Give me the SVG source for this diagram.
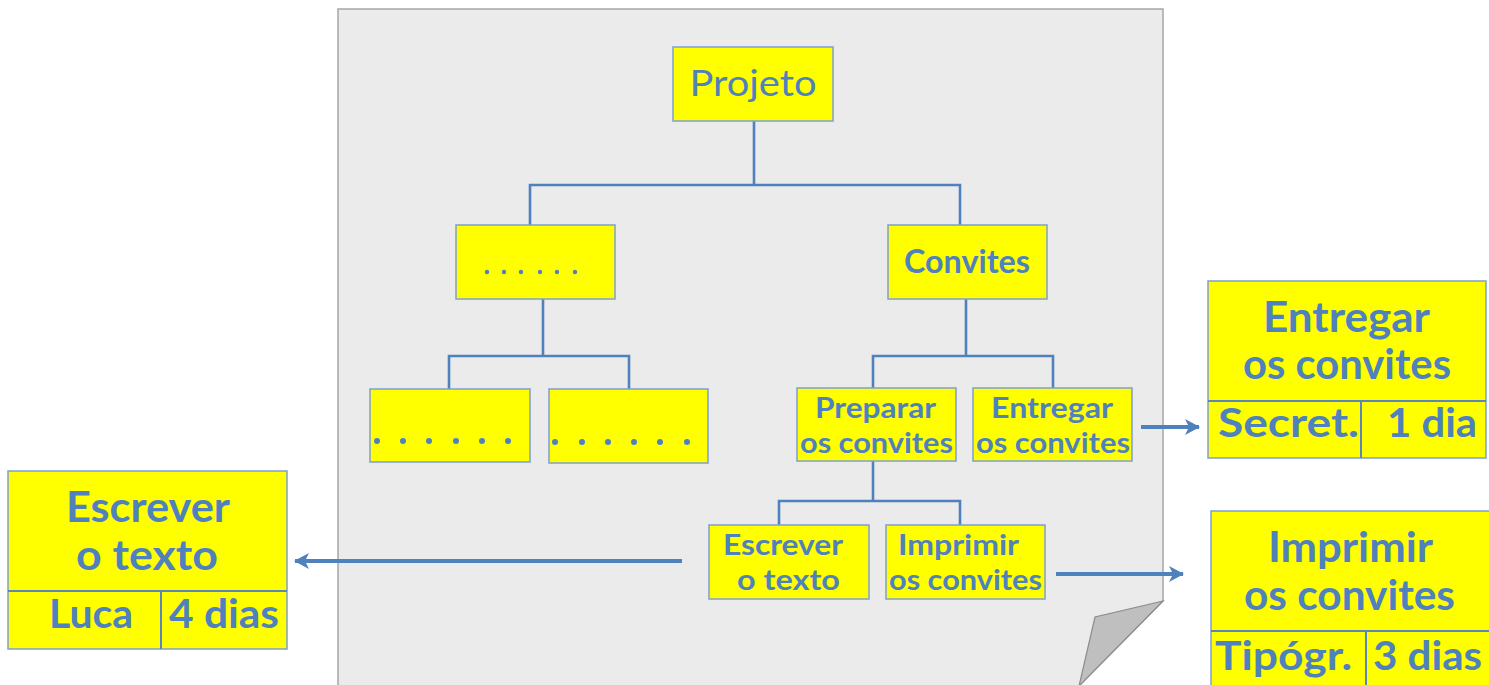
<svg xmlns="http://www.w3.org/2000/svg" width="1489" height="685" viewBox="0 0 1489 685">
  <style>
    .page { fill: #ebebeb; stroke: #a6a6a6; stroke-width: 1.5; }
    .fold { fill: #bfbfbf; stroke: #8c8c8c; stroke-width: 1.2; }
    .box { fill: #ffff00; stroke: #7f9fcf; stroke-width: 1.5; }
    .div { stroke: #5a86c0; stroke-width: 2; fill: none; }
    .link { fill: none; stroke: #4f81bd; stroke-width: 2.6; }
    .arrow { fill: none; stroke: #4f81bd; stroke-width: 4; }
    .t { font-family: Lato, "DejaVu Sans", sans-serif; font-weight: 700; fill: #4f81bd; text-anchor: middle; }
    .s { text-anchor: start; }
    .reg { font-weight: 400; }
    .dot { fill: #4f81bd; }
  </style>
  <defs>
    <marker id="head" markerUnits="userSpaceOnUse" markerWidth="16" markerHeight="18" refX="14" refY="8" orient="auto">
      <path d="M0,0 L15,8 L0,16 L4,8 Z" fill="#4f81bd"/>
    </marker>
  </defs>

  <!-- sheet of paper with curled corner -->
  <g id="sheet">
    <path class="page" d="M338,9 H1163 V601 L1079,686 H338 Z"/>
    <path class="fold" d="M1163,601 L1095,617 L1079,686 Z"/>
  </g>

  <!-- tree connectors and arrows -->
  <g id="connectors">
    <path class="link" d="M754,121 V185 M530,225 V185 H960 V225"/>
    <path class="link" d="M543,299 V356 M449,389 V356 H629 V389"/>
    <path class="link" d="M966,299 V356 M873,388 V356 H1053 V388"/>
    <path class="link" d="M873,461 V501 M779,526 V501 H960 V526"/>
    <line class="arrow" x1="1141" y1="427" x2="1199" y2="427" marker-end="url(#head)"/>
    <line class="arrow" x1="682" y1="561" x2="295" y2="561" marker-end="url(#head)"/>
    <line class="arrow" x1="1056" y1="574" x2="1183" y2="574" marker-end="url(#head)"/>
  </g>

  <g id="projeto">
    <rect class="box" x="673" y="47" width="160" height="74"/>
    <text class="t reg" x="753" y="96" font-size="36" textLength="127" lengthAdjust="spacingAndGlyphs">Projeto</text>
  </g>

  <g id="outros">
    <rect class="box" x="456" y="225" width="159" height="74"/>
    <g class="dot">
      <circle cx="487" cy="272" r="2.2"/><circle cx="504" cy="272" r="2.2"/><circle cx="521" cy="272" r="2.2"/>
      <circle cx="540" cy="272" r="2.2"/><circle cx="557" cy="272" r="2.2"/><circle cx="575" cy="272" r="2.2"/>
    </g>
  </g>

  <g id="convites">
    <rect class="box" x="888" y="225" width="159" height="74"/>
    <text class="t" x="967" y="273" font-size="32" textLength="126" lengthAdjust="spacingAndGlyphs">Convites</text>
  </g>

  <g id="outros-a">
    <rect class="box" x="370" y="389" width="160" height="73"/>
    <g class="dot">
      <circle cx="377" cy="441" r="3"/><circle cx="403" cy="441" r="3"/><circle cx="429" cy="441" r="3"/>
      <circle cx="456" cy="441" r="3"/><circle cx="482" cy="441" r="3"/><circle cx="508" cy="441" r="3"/>
    </g>
  </g>

  <g id="outros-b">
    <rect class="box" x="549" y="389" width="159" height="74"/>
    <g class="dot">
      <circle cx="555" cy="442" r="3"/><circle cx="582" cy="442" r="3"/><circle cx="608" cy="442" r="3"/>
      <circle cx="634" cy="442" r="3"/><circle cx="660" cy="442" r="3"/><circle cx="687" cy="442" r="3"/>
    </g>
  </g>

  <g id="preparar">
    <rect class="box" x="797" y="388" width="159" height="73"/>
    <text class="t" x="875.5" y="418" font-size="28" textLength="121" lengthAdjust="spacingAndGlyphs">Preparar</text>
    <text class="t" x="876.5" y="453" font-size="28" textLength="153" lengthAdjust="spacingAndGlyphs">os convites</text>
  </g>

  <g id="entregar">
    <rect class="box" x="973" y="388" width="159" height="73"/>
    <text class="t" x="1052" y="418" font-size="28" textLength="122" lengthAdjust="spacingAndGlyphs">Entregar</text>
    <text class="t" x="1053" y="453" font-size="28" textLength="154" lengthAdjust="spacingAndGlyphs">os convites</text>
  </g>

  <g id="escrever">
    <rect class="box" x="709" y="525" width="160" height="74"/>
    <text class="t" x="783" y="555" font-size="28" textLength="120" lengthAdjust="spacingAndGlyphs">Escrever</text>
    <text class="t" x="788.5" y="590" font-size="28" textLength="103" lengthAdjust="spacingAndGlyphs">o texto</text>
  </g>

  <g id="imprimir">
    <rect class="box" x="886" y="525" width="159" height="74"/>
    <text class="t" x="958.5" y="555" font-size="28" textLength="121" lengthAdjust="spacingAndGlyphs">Imprimir</text>
    <text class="t" x="965.5" y="590" font-size="28" textLength="153" lengthAdjust="spacingAndGlyphs">os convites</text>
  </g>

  <!-- task cards -->
  <g id="card-entregar">
    <rect class="box" x="1208" y="281" width="278" height="177"/>
    <path class="div" d="M1208,401 H1486 M1361,401 V458"/>
    <text class="t" x="1346.5" y="332" font-size="42" textLength="167" lengthAdjust="spacingAndGlyphs">Entregar</text>
    <text class="t" x="1347" y="379" font-size="42" textLength="208" lengthAdjust="spacingAndGlyphs">os convites</text>
    <text class="t s" x="1218" y="437" font-size="40" textLength="141" lengthAdjust="spacingAndGlyphs">Secret.</text>
    <text class="t s" x="1387" y="437" font-size="40" textLength="90" lengthAdjust="spacingAndGlyphs">1 dia</text>
  </g>

  <g id="card-escrever">
    <rect class="box" x="8" y="471" width="279" height="178"/>
    <path class="div" d="M8,591 H287 M161,591 V649"/>
    <text class="t" x="148" y="522" font-size="42" textLength="164" lengthAdjust="spacingAndGlyphs">Escrever</text>
    <text class="t" x="147" y="570" font-size="42" textLength="142" lengthAdjust="spacingAndGlyphs">o texto</text>
    <text class="t s" x="49" y="628" font-size="40" textLength="84" lengthAdjust="spacingAndGlyphs">Luca</text>
    <text class="t s" x="169" y="628" font-size="40" textLength="110" lengthAdjust="spacingAndGlyphs">4 dias</text>
  </g>

  <g id="card-imprimir">
    <rect class="box" x="1211" y="511" width="280" height="180"/>
    <path class="div" d="M1211,631 H1491 M1366,631 V691"/>
    <text class="t" x="1350.5" y="562" font-size="42" textLength="165" lengthAdjust="spacingAndGlyphs">Imprimir</text>
    <text class="t" x="1349.5" y="610" font-size="42" textLength="211" lengthAdjust="spacingAndGlyphs">os convites</text>
    <text class="t s" x="1215" y="670" font-size="40" textLength="137" lengthAdjust="spacingAndGlyphs">Tipógr.</text>
    <text class="t s" x="1373" y="670" font-size="40" textLength="109" lengthAdjust="spacingAndGlyphs">3 dias</text>
  </g>
</svg>
